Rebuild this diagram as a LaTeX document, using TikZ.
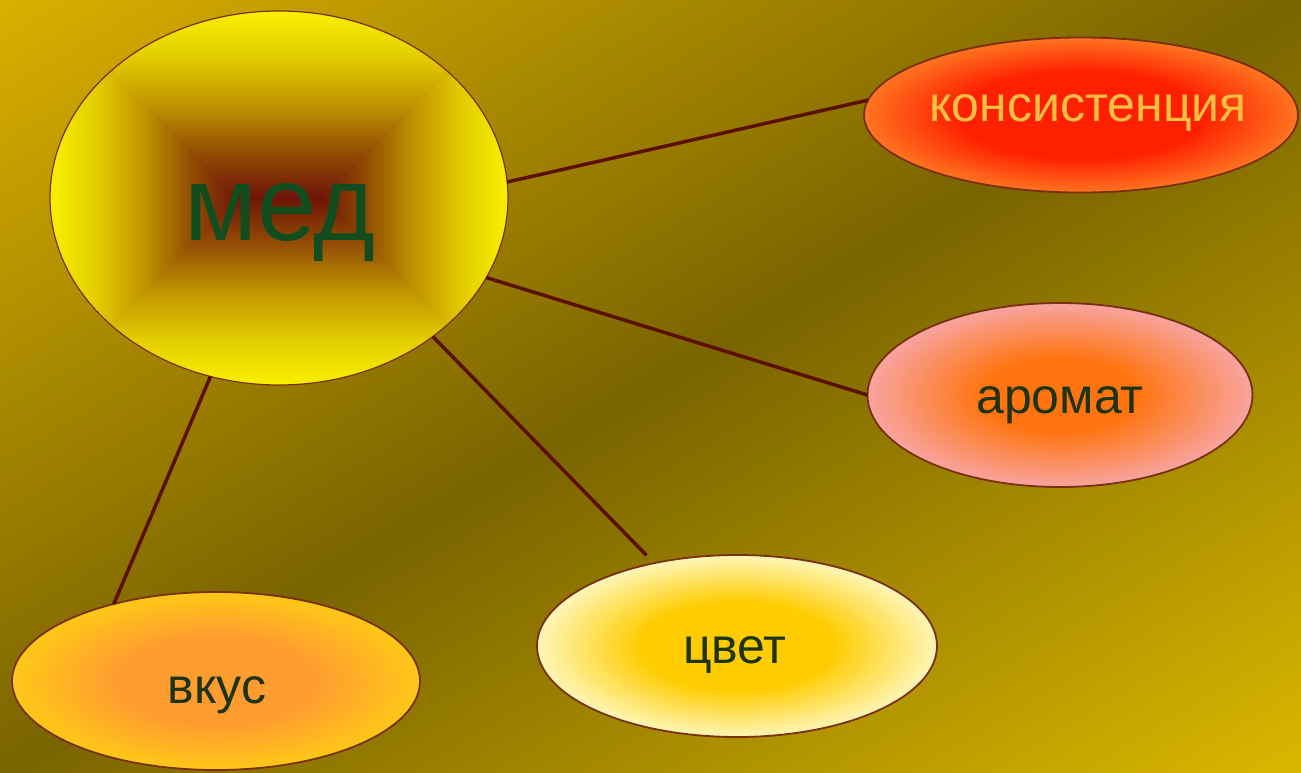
\documentclass[tikz,border=0pt]{standalone}
\usepackage{fontspec}
\setmainfont{Liberation Sans}
\usetikzlibrary{shapes.geometric}
\definecolor{bgA}{HTML}{D8AE00}
\definecolor{bgB}{HTML}{7A6400}
\definecolor{bgC}{HTML}{D8B600}
\definecolor{medA}{HTML}{6E1408}
\definecolor{medB}{HTML}{944E04}
\definecolor{medC}{HTML}{C09400}
\definecolor{medD}{HTML}{E2CC00}
\definecolor{medE}{HTML}{FAF000}
\definecolor{konsIn}{HTML}{FF2000}
\definecolor{konsOut}{HTML}{FF7420}
\definecolor{aroIn}{HTML}{FF7410}
\definecolor{aroOut}{HTML}{F8A4A0}
\definecolor{cvIn}{HTML}{FFCC00}
\definecolor{cvOut}{HTML}{FFF6B8}
\definecolor{vkIn}{HTML}{FF9C30}
\definecolor{vkOut}{HTML}{FFC818}
\definecolor{lineC}{HTML}{5C0F05}
\definecolor{rimC}{HTML}{7A3010}
\definecolor{greenT}{HTML}{114D1E}
\definecolor{darkT}{HTML}{1E3410}
\definecolor{konsT}{HTML}{F8C040}
% path bounding box maps to the central 50bp of a 100bp shading
\pgfdeclarehorizontalshading{bgshade}{100bp}{color(0bp)=(bgA); color(15bp)=(bgA); color(50bp)=(bgB); color(85bp)=(bgC); color(100bp)=(bgC)}
\pgfdeclareverticalshading{medshade}{100bp}{color(0bp)=(medA); color(25bp)=(medA); color(37.5bp)=(medB); color(50bp)=(medC); color(62.5bp)=(medD); color(75bp)=(medE); color(100bp)=(medE)}
\pgfdeclareradialshading{konsshade}{\pgfpoint{0bp}{0bp}}{color(0bp)=(konsIn); color(14bp)=(konsIn); color(25bp)=(konsOut); color(100bp)=(konsOut)}
\pgfdeclareradialshading{aroshade}{\pgfpoint{0bp}{0bp}}{color(0bp)=(aroIn); color(10bp)=(aroIn); color(25bp)=(aroOut); color(100bp)=(aroOut)}
\pgfdeclareradialshading{cvshade}{\pgfpoint{0bp}{0bp}}{color(0bp)=(cvIn); color(12bp)=(cvIn); color(25bp)=(cvOut); color(100bp)=(cvOut)}
\pgfdeclareradialshading{vkshade}{\pgfpoint{0bp}{0bp}}{color(0bp)=(vkIn); color(12bp)=(vkIn); color(25bp)=(vkOut); color(100bp)=(vkOut)}
\tikzset{
  blob/.style={shape=ellipse, inner sep=0pt, outer sep=0pt, draw=rimC, line width=1.8pt, shade},
  link/.style={draw=lineC, line width=3.5pt},
  lbl/.style={anchor=base, inner sep=0pt, font=\fontsize{50}{60}\selectfont, text=darkT},
}
\begin{document}
\begin{tikzpicture}[x=1pt,y=-1pt]
\useasboundingbox (0,0) rectangle (1301,773);
% background
\begin{scope}[transform canvas={xscale=1.68305}]
  \shade[shading=bgshade, shading angle=-45] (0,0) rectangle (773,773);
\end{scope}
% rectangular gradient of the big circle
\begin{scope}
  \clip (279,198) ellipse [x radius=229, y radius=187];
  \shade[shading=medshade] (50,11) -- (508,11) -- (321,198.5) -- (237,198.5) -- cycle;
  \shade[shading=medshade, shading angle=180] (50,385) -- (508,385) -- (321,197.5) -- (237,197.5) -- cycle;
  \shade[shading=medshade, shading angle=90] (50,11) -- (237.5,198) -- (50,385) -- cycle;
  \shade[shading=medshade, shading angle=-90] (508,11) -- (320.5,198) -- (508,385) -- cycle;
\end{scope}
\node[shape=ellipse, inner sep=0pt, outer sep=0pt, draw=rimC, line width=1.2pt, minimum width=458pt, minimum height=374pt] (med) at (279,198) {};
\node[blob, shading=konsshade, minimum width=434pt, minimum height=155pt] (kons) at (1081,115) {};
\node[blob, shading=aroshade, minimum width=385pt, minimum height=184pt] (aro) at (1060,395) {};
\node[blob, shading=cvshade, minimum width=400pt, minimum height=182pt] (cvet) at (737,646) {};
\node[blob, shading=vkshade, minimum width=408pt, minimum height=178pt] (vkus) at (216,681) {};
% connectors
\draw[link] (med.4.5) -- (kons.176);
\draw[link] (med.-21.9) -- (aro.180);
\draw[link, shorten >=11pt] (med.-42.9) -- (cvet.135.3);
\draw[link] (med.-111.4) -- (vkus.143.5);
% labels
\node[lbl, font=\fontsize{106}{120}\selectfont, text=greenT] (medT) at (280,240) {мед};
\node[lbl, text=konsT] (konsL) at (1088,122) {консистенция};
\node[lbl] (aroL) at (1060,413) {аромат};
\node[lbl] (cvetL) at (735,663) {цвет};
\node[lbl] (vkusL) at (217,703) {вкус};
\end{tikzpicture}
\end{document}
